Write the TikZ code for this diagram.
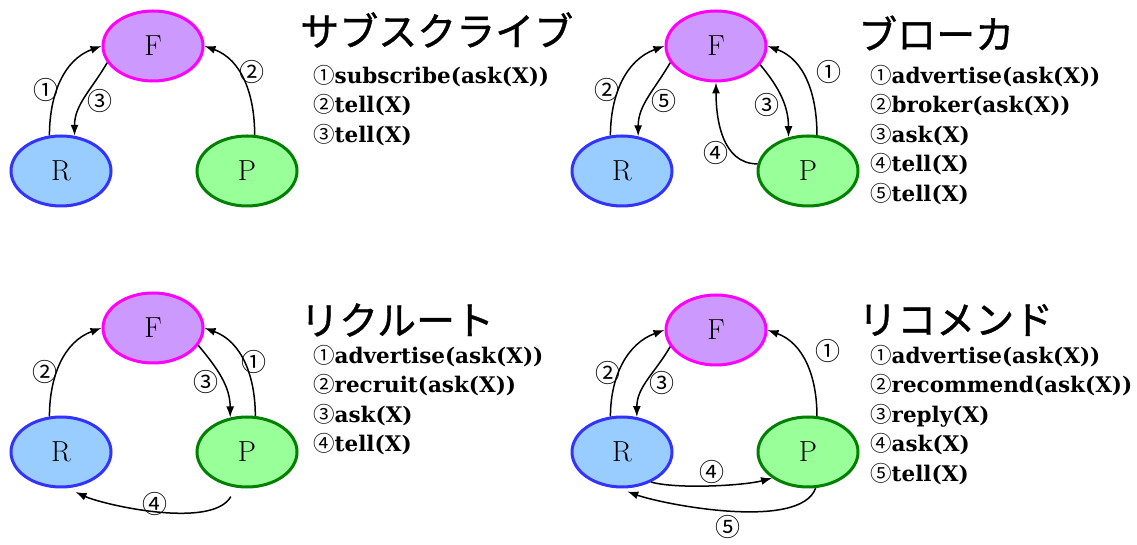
\documentclass[tikz,border=0pt]{standalone}
\usepackage{fontspec}
\usepackage{tikz}
\usetikzlibrary{
    arrows.meta,
    shapes.geometric,
    positioning
}
\usepackage{xcolor}
\newfontfamily\jpfont{Noto Sans CJK JP}
\newfontfamily\headfont{Noto Sans CJK JP}[FakeBold=1]
\newfontfamily\stepfont{DejaVu Serif}
\newcommand{\maru}[1]{{\jpfont\mdseries #1}}
\definecolor{facfill}{HTML}{CC99FF}
\definecolor{facline}{HTML}{FF00FF}
\definecolor{reqfill}{HTML}{99CCFF}
\definecolor{reqline}{HTML}{3333FF}
\definecolor{provfill}{HTML}{99FF99}
\definecolor{provline}{HTML}{008000}
\tikzstyle{agent} = [
    ellipse,
    line width=3pt,
    minimum width=100pt,
    minimum height=70pt,
    inner sep=0pt,
    font=\fontsize{29}{29}\selectfont
]
\tikzstyle{fac} = [agent, draw=facline, fill=facfill]
\tikzstyle{req} = [agent, draw=reqline, fill=reqfill]
\tikzstyle{prov} = [agent, draw=provline, fill=provfill]
\tikzstyle{msg} = [
    -{Latex[length=11pt,width=8pt]},
    line width=1.5pt
]
\tikzstyle{num} = [
    inner sep=0pt,
    font=\jpfont\fontsize{25}{25}\selectfont
]
\tikzstyle{title} = [
    anchor=west,
    inner sep=0pt,
    font=\headfont\fontsize{39}{39}\selectfont
]
\tikzstyle{steps} = [
    anchor=north west,
    align=left,
    inner sep=0pt,
    font=\stepfont\bfseries\fontsize{21.5}{29.5}\selectfont
]

\begin{document}
\begin{tikzpicture}[x=1pt, y=1pt]
        \path[use as bounding box, fill=white] (0,0) rectangle (1137,545);

        % Subscribe
        \node[fac] (fac1) at (153,499) {F};
        \node[req] (req1) at (61,374) {R};
        \node[prov] (prov1) at (247,374) {P};
        \draw[msg] (req1.108) to[out=90, in=200] node[num, pos=0.4, xshift=-11pt] {①} (fac1.180);
        \draw[msg] (prov1.78) to[out=90, in=-20] node[num, pos=0.6, xshift=14pt] {②} (fac1.0);
        \draw[msg] (fac1.200) to[out=240, in=90] node[num, pos=0.55, xshift=17pt] {③} (req1.69);
        \node[title] (title1) at (300,515) {サブスクライブ};
        \node[steps] (steps1) at (313,480) {
            \maru{①}subscribe(ask(X))\\
            \maru{②}tell(X)\\
            \maru{③}tell(X)
        };

        % Broker
        \node[fac] (fac2) at (716,499) {F};
        \node[req] (req2) at (622,374) {R};
        \node[prov] (prov2) at (808,374) {P};
        \draw[msg] (prov2.76) to[out=90, in=-20] node[num, pos=0.6, xshift=28pt] {①} (fac2.0);
        \draw[msg] (req2.108) to[out=90, in=200] node[num, pos=0.4, xshift=-11pt] {②} (fac2.180);
        \draw[msg] (fac2.-23) to[out=-50, in=90] node[num, pos=0.6, xshift=-17pt] {③} (prov2.120);
        \draw[msg] (prov2.172) to[out=180, in=-90] node[num, pos=0.3, xshift=-17pt] {④} (fac2.-90);
        \draw[msg] (fac2.200) to[out=240, in=90] node[num, pos=0.55, xshift=17pt] {⑤} (req2.65);
        \node[title] (title2) at (858,512) {ブローカ};
        \node[steps] (steps2) at (870,480) {
            \maru{①}advertise(ask(X))\\
            \maru{②}broker(ask(X))\\
            \maru{③}ask(X)\\
            \maru{④}tell(X)\\
            \maru{⑤}tell(X)
        };

        % Recruit
        \node[fac] (fac3) at (153,217) {F};
        \node[req] (req3) at (61,93) {R};
        \node[prov] (prov3) at (247,93) {P};
        \draw[msg] (prov3.77) to[out=90, in=-20] node[num, pos=0.5, xshift=10pt] {①} (fac3.0);
        \draw[msg] (req3.108) to[out=90, in=200] node[num, pos=0.4, xshift=-12pt] {②} (fac3.180);
        \draw[msg] (fac3.-21) to[out=-50, in=90] node[num, pos=0.55, xshift=-17pt] {③} (prov3.116);
        \draw[msg, shorten >=9pt] ([yshift=-10pt]prov3.245) to[out=-120, in=-25, looseness=0.6] node[num, pos=0.5, yshift=7pt] {④} (req3.280);
        \node[title] (title3) at (300,225) {リクルート};
        \node[steps] (steps3) at (313,200) {
            \maru{①}advertise(ask(X))\\
            \maru{②}recruit(ask(X))\\
            \maru{③}ask(X)\\
            \maru{④}tell(X)
        };

        % Recommend
        \node[fac] (fac4) at (716,215) {F};
        \node[req] (req4) at (622,93) {R};
        \node[prov] (prov4) at (808,93) {P};
        \draw[msg] (prov4.76) to[out=90, in=-20] node[num, pos=0.65, xshift=30pt] {①} (fac4.0);
        \draw[msg] (req4.108) to[out=90, in=200] node[num, pos=0.4, xshift=-11pt] {②} (fac4.180);
        \draw[msg] (fac4.200) to[out=240, in=90] node[num, pos=0.55, xshift=16pt] {③} (req4.67);
        \draw[msg] (req4.-46) to[out=-15, in=195, looseness=0.6] node[num, pos=0.5, yshift=14pt] {④} (prov4.216);
        \draw[msg, shorten >=9pt] (prov4.-78) to[out=-110, in=-20, looseness=0.6] node[num, pos=0.5, yshift=-17pt] {⑤} (req4.265);
        \node[title] (title4) at (858,225) {リコメンド};
        \node[steps] (steps4) at (870,200) {
            \maru{①}advertise(ask(X))\\
            \maru{②}recommend(ask(X))\\
            \maru{③}reply(X)\\
            \maru{④}ask(X)\\
            \maru{⑤}tell(X)
        };
    \end{tikzpicture}
\end{document}
